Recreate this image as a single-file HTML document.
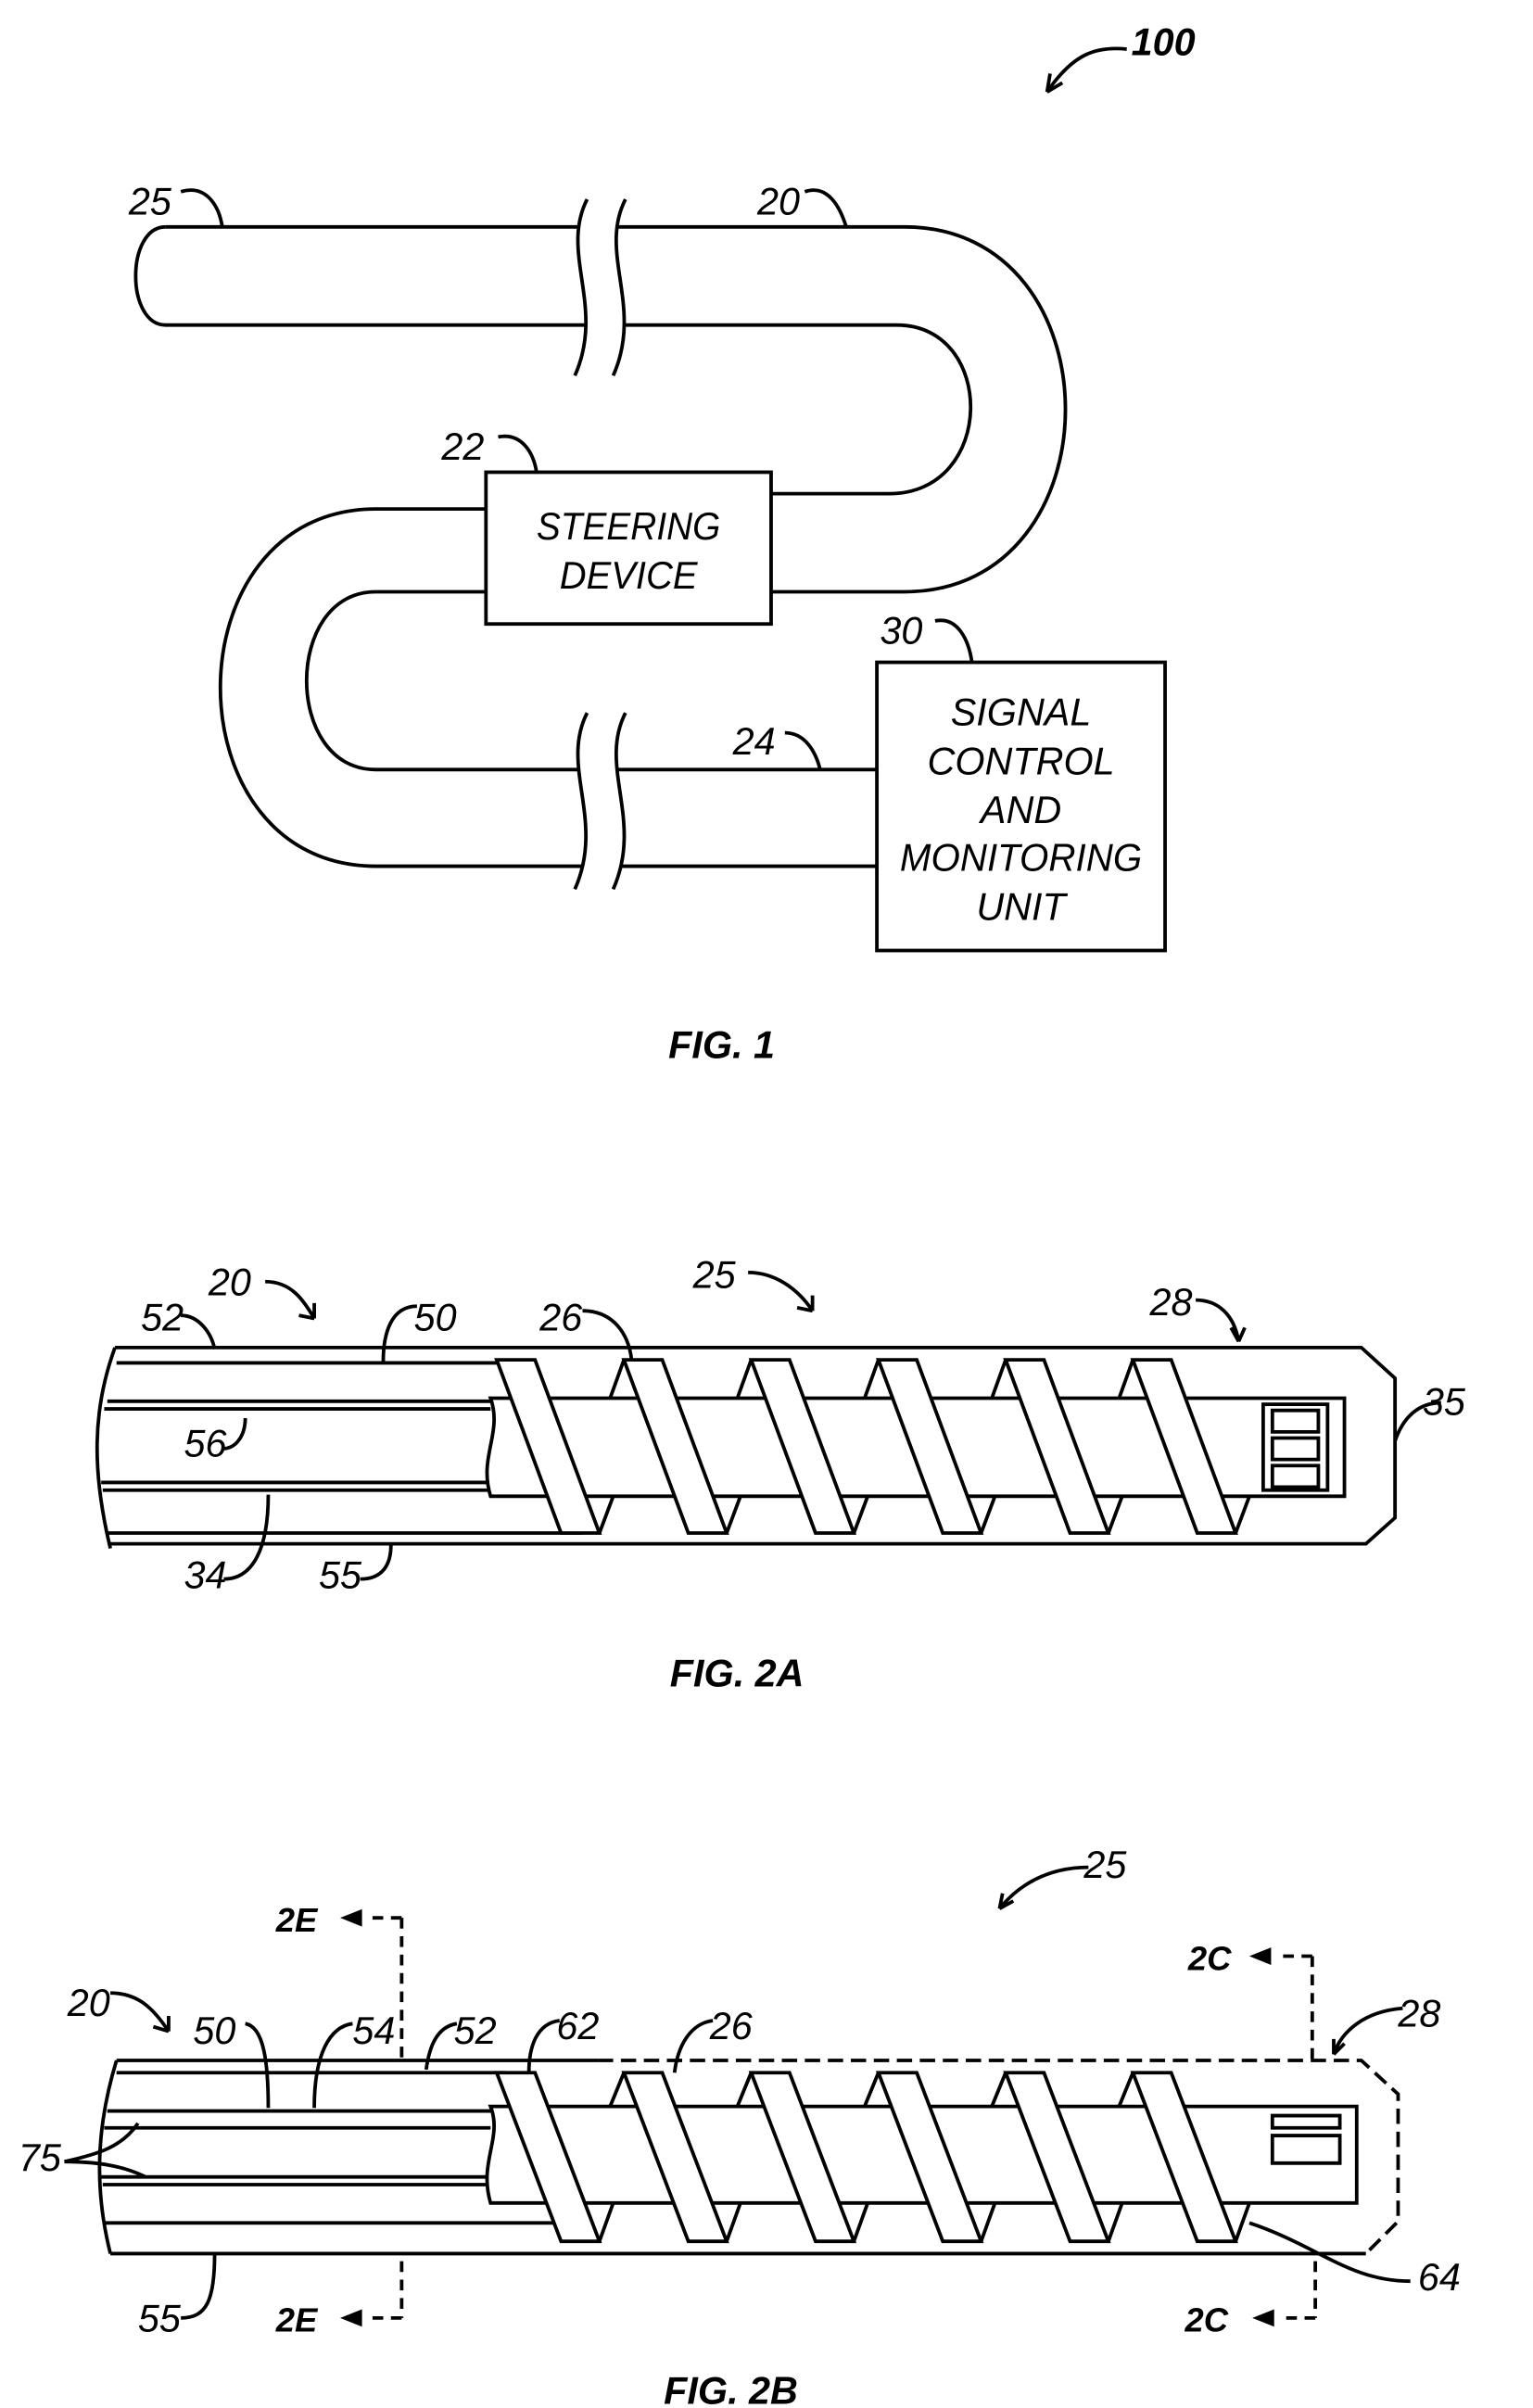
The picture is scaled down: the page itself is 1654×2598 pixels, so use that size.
<!DOCTYPE html>
<html><head><style>html,body{margin:0;padding:0;background:#fff}svg{display:block}
text{font-family:"Liberation Sans",sans-serif;font-style:italic;fill:#000}</style></head>
<body>
<svg width="1654" height="2598" viewBox="0 0 1000 1570.7" xmlns="http://www.w3.org/2000/svg">
<g fill="none" stroke="#000" stroke-width="2.3">
<!-- FIG 1 -->
<path d="M683,60 C700,35 715,30 735,32"/><path d="M683,60 l2,-12 M683,60 l10,-6" />
<path d="M108,148 L590,148 C730,148 730,386 590,386 L503,386"/>
<path d="M108,148 C82,148 82,212 108,212 L585,212 C650,212 650,322 580,322 L503,322"/>
<path d="M317,332 L245,332 C110,332 110,565 245,565 L572,565"/>
<path d="M317,386 L245,386 C185,386 185,502 245,502 L572,502"/>
<rect x="317" y="308" width="186" height="99" fill="#fff"/>
<rect x="572" y="432" width="188" height="188" fill="#fff"/>
<g fill="#fff"><path d="M383,130 C365,165 395,200 375,245 L400,245 C420,200 390,165 408,130 Z" stroke="none"/>
<path d="M383,465 C365,500 395,535 375,580 L400,580 C420,535 390,500 408,465 Z" stroke="none"/></g>
<path d="M383,130 C365,165 395,200 375,245 M408,130 C390,165 420,200 400,245"/>
<path d="M383,465 C365,500 395,535 375,580 M408,465 C390,500 420,535 400,580"/>
<path d="M118,125 C135,120 143,135 145,148"/><path d="M525,125 C540,120 548,135 552,148"/>
<path d="M325,285 C340,282 348,295 350,308"/><path d="M610,405 C625,402 632,418 634,432"/>
<path d="M512,478 C525,478 532,490 535,502"/>
<!-- FIG 2A -->
<path d="M75,879 C60,920 60,960 72,1010"/>
<path d="M75,879 L888,879 L910,899 L910,990 L891,1007 L72,1007"/>
<path d="M76,889 L330,889 M70,914 L322,914 M68,919 L320,919 M66,967 L320,967 M67,972 L320,972 M70,1000 L380,1000"/>
<path d="M320,912 L877,912 L877,976 L320,976 C312,950 328,935 320,912 Z" fill="#fff"/>
<rect x="824" y="916" width="42" height="56"/><path d="M830,920 h30 v14 h-30 z M830,938 h30 v14 h-30 z M830,956 h30 v14 h-30 z"/>
<g fill="#fff">
<path d="M324,887 L349,887 L391,1000 L366,1000 Z"/>
<path d="M407,887 L432,887 L474,1000 L449,1000 Z"/>
<path d="M490,887 L515,887 L557,1000 L532,1000 Z"/>
<path d="M573,887 L598,887 L640,1000 L615,1000 Z"/>
<path d="M656,887 L681,887 L723,1000 L698,1000 Z"/>
<path d="M739,887 L764,887 L806,1000 L781,1000 Z"/>
</g>
<path d="M407,887 L398,912 M490,887 L481,912 M573,887 L564,912 M656,887 L647,912 M739,887 L730,912"/>
<path d="M391,1000 L400,976 M474,1000 L483,976 M557,1000 L566,976 M640,1000 L649,976 M723,1000 L732,976 M806,1000 L815,976"/>
<path d="M118,858 C130,858 138,870 140,880"/><path d="M173,836 C190,836 198,848 205,860"/><path d="M205,860 l-10,-2 M205,860 l0,-10"/>
<path d="M272,852 C255,852 250,870 250,888"/><path d="M380,855 C400,855 410,870 412,887"/>
<path d="M488,830 C505,830 520,840 530,855"/><path d="M530,855 l-10,-2 M530,855 l0,-10"/>
<path d="M780,848 C795,848 805,858 808,875"/><path d="M808,875 l-5,-9 M808,875 l4,-9"/>
<path d="M940,915 C925,915 915,925 910,940"/>
<path d="M145,945 C155,945 160,935 160,925"/><path d="M146,1030 C165,1030 175,1010 175,975"/>
<path d="M235,1030 C250,1030 255,1020 255,1008"/>
<!-- FIG 2B -->
<path d="M76,1344 C62,1390 62,1430 72,1470"/>
<path d="M76,1344 L390,1344"/>
<path d="M390,1344 L888,1344 L912,1366 L912,1449 L891,1470" stroke-dasharray="10,5"/>
<path d="M72,1470 L891,1470"/>
<path d="M76,1352 L330,1352 M70,1377 L322,1377 M68,1388 L320,1388 M66,1420 L320,1420 M67,1425 L320,1425 M68,1450 L380,1450"/>
<path d="M320,1374 L885,1374 L885,1437 L320,1437 C312,1410 328,1395 320,1374 Z" fill="#fff"/>
<path d="M830,1380 h44 v8 h-44 z M830,1393 h44 v18 h-44 z"/>
<g fill="#fff">
<path d="M324,1352 L349,1352 L391,1462 L366,1462 Z"/>
<path d="M407,1352 L432,1352 L474,1462 L449,1462 Z"/>
<path d="M490,1352 L515,1352 L557,1462 L532,1462 Z"/>
<path d="M573,1352 L598,1352 L640,1462 L615,1462 Z"/>
<path d="M656,1352 L681,1352 L723,1462 L698,1462 Z"/>
<path d="M739,1352 L764,1352 L806,1462 L781,1462 Z"/>
</g>
<path d="M407,1352 L398,1374 M490,1352 L481,1374 M573,1352 L564,1374 M656,1352 L647,1374 M739,1352 L730,1374"/>
<path d="M391,1462 L400,1437 M474,1462 L483,1437 M557,1462 L566,1437 M640,1462 L649,1437 M723,1462 L732,1437 M806,1462 L815,1437"/>
<g stroke-dasharray="7,5"><path d="M262,1251 L262,1344 M262,1475 L262,1512 M856,1276 L856,1344 M858,1475 L858,1512"/>
<path d="M262,1251 L240,1251 M262,1512 L240,1512 M856,1276 L833,1276 M858,1512 L835,1512"/></g>
<path d="M225,1251 l10,-4 v8 z M225,1512 l10,-4 v8 z M818,1276 l10,-4 v8 z M820,1512 l10,-4 v8 z" fill="#000"/>
<path d="M710,1218 C690,1218 668,1225 652,1245"/><path d="M652,1245 l2,-10 M652,1245 l9,-5"/>
<path d="M72,1300 C90,1300 100,1310 110,1325"/><path d="M110,1325 l-10,-3 M110,1325 l0,-10"/>
<path d="M160,1320 C172,1322 175,1345 175,1375"/><path d="M230,1320 C215,1322 205,1340 205,1375"/>
<path d="M298,1320 C285,1322 280,1335 278,1350"/><path d="M365,1318 C350,1320 345,1335 345,1352"/>
<path d="M465,1318 C450,1320 442,1335 440,1352"/>
<path d="M915,1310 C890,1312 875,1325 870,1340"/><path d="M870,1340 l0,-10 M870,1340 l7,-7"/>
<path d="M42,1410 C65,1405 80,1400 90,1385 M42,1410 C70,1410 85,1415 95,1420"/>
<path d="M118,1512 C135,1512 140,1500 140,1470"/>
<path d="M920,1488 C880,1488 860,1465 815,1450"/>
</g>
<g font-size="25" font-weight="bold"><text x="738" y="36">100</text>
<text x="437" y="1100">FIG. 2A</text><text x="433" y="1568">FIG. 2B</text><text x="436" y="690">FIG. 1</text>
<text x="180" y="1260" font-size="22">2E</text><text x="180" y="1521" font-size="22">2E</text>
<text x="775" y="1285" font-size="22">2C</text><text x="773" y="1521" font-size="22">2C</text></g>
<g font-size="25" text-anchor="middle">
<text x="410" y="352" textLength="120" lengthAdjust="spacingAndGlyphs">STEERING</text>
<text x="410" y="384" textLength="90" lengthAdjust="spacingAndGlyphs">DEVICE</text>
<text x="666" y="473">SIGNAL</text><text x="666" y="505">CONTROL</text><text x="666" y="537">AND</text>
<text x="666" y="568" textLength="158" lengthAdjust="spacingAndGlyphs">MONITORING</text><text x="666" y="600">UNIT</text>
</g>
<g font-size="25">
<text x="84" y="140">25</text><text x="494" y="140">20</text><text x="288" y="300">22</text>
<text x="574" y="420">30</text><text x="478" y="492">24</text>
<text x="136" y="845">20</text><text x="92" y="868">52</text><text x="270" y="868">50</text>
<text x="452" y="840">25</text><text x="352" y="868">26</text><text x="750" y="858">28</text>
<text x="928" y="923">35</text><text x="120" y="950">56</text><text x="120" y="1036">34</text><text x="208" y="1036">55</text>
<text x="707" y="1225">25</text><text x="44" y="1315">20</text><text x="126" y="1333">50</text>
<text x="230" y="1333">54</text><text x="296" y="1333">52</text><text x="363" y="1330">62</text>
<text x="463" y="1330">26</text><text x="912" y="1322">28</text><text x="12" y="1416">75</text>
<text x="90" y="1521">55</text><text x="925" y="1494">64</text>
</g>
</svg>
</body></html>
